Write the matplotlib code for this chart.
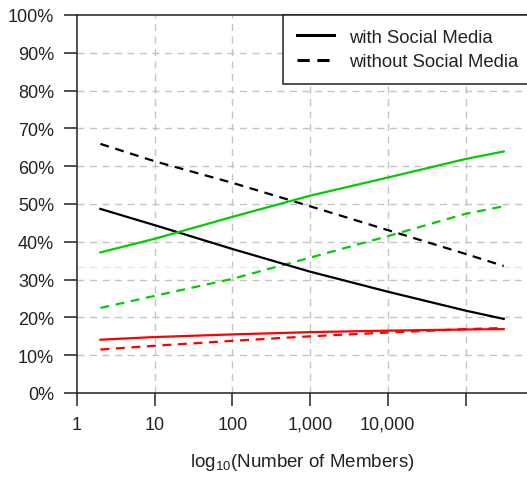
import matplotlib
matplotlib.use('Agg')
import matplotlib.pyplot as plt
import numpy as np

plt.rcParams['font.family'] = ['Liberation Sans', 'DejaVu Sans']
plt.rcParams['mathtext.default'] = 'regular'

# group size where each curve was evaluated
members = [2, 10, 100, 1000, 10000, 100000, 310000]

# share of members (%) by group size
black_with = [48.7, 44.4, 38.1, 32.1, 26.8, 21.8, 19.6]
black_without = [65.9, 61.3, 55.6, 49.4, 43.1, 36.8, 33.6]
green_with = [37.2, 40.8, 46.6, 52.2, 57.0, 61.9, 63.9]
green_without = [22.5, 25.7, 30.2, 35.8, 41.5, 47.4, 49.4]
red_with = [14.1, 14.8, 15.5, 16.1, 16.5, 16.8, 16.9]
red_without = [11.5, 12.5, 13.8, 15.0, 16.0, 16.9, 17.2]

x_ticks = [1, 10, 100, 1000, 10000, 100000]
x_tick_labels = ['1', '10', '100', '1,000', '10,000', '']
y_ticks = [0, 10, 20, 30, 40, 50, 60, 70, 80, 90, 100]
legend_labels = ['with Social Media', 'without Social Media']

GREEN = '#00cd00'
RED = '#ff0000'
GRID = '#c4c4c4'
INK = '#222222'


def main():
	fig = plt.figure(figsize=(5.27, 4.81), dpi=100)
	ax = fig.add_axes([77 / 527, 87 / 481, 1 - 77 / 527, 378 / 481])

	ax.set_xscale('log')
	ax.set_xlim(1, 10 ** (450 / 77.7))
	ax.set_ylim(0, 100)

	# background grid
	for xv in x_ticks[1:]:
		ax.axvline(xv, color=GRID, lw=1.0, ls=(0, (5, 4)), zorder=0)
	for yv in y_ticks[1:-1]:
		ax.axhline(yv, color=GRID, lw=1.0, ls=(0, (5, 4)), zorder=0)
	ax.axhline(100 / 3, color='#e6e6e6', lw=1.0, ls=(0, (5, 4)), zorder=0)

	lw = 1.6
	dash = (0, (4, 3))
	ax.plot(members, black_without, color='black', lw=lw, ls=dash)
	ax.plot(members, green_without, color=GREEN, lw=lw, ls=dash)
	ax.plot(members, red_without, color=RED, lw=lw, ls=dash)
	ax.plot(members, black_with, color='black', lw=lw)
	ax.plot(members, green_with, color=GREEN, lw=lw)
	ax.plot(members, red_with, color=RED, lw=lw)

	ax.set_xticks(x_ticks)
	ax.set_xticklabels(x_tick_labels)
	ax.xaxis.set_minor_locator(matplotlib.ticker.NullLocator())
	ax.set_yticks(y_ticks)
	ax.set_yticklabels(['%d%%' % v for v in y_ticks])

	ax.tick_params(direction='out', length=9.4, width=1.1, labelsize=13,
		color=INK, labelcolor=INK)
	ax.tick_params(axis='x', pad=7)
	ax.tick_params(axis='y', pad=7)
	for s in ['left', 'bottom', 'top']:
		ax.spines[s].set_linewidth(1.1)
		ax.spines[s].set_color(INK)
	ax.spines['right'].set_visible(False)

	ax.set_xlabel('log$_{10}$(Number of Members)', fontsize=13.5, color=INK, labelpad=13)

	# legend, line style only
	h1, = ax.plot([], [], color='black', lw=2.2)
	h2, = ax.plot([], [], color='black', lw=2.2, ls=(0, (4, 2.5)))
	leg = ax.legend([h1, h2], legend_labels, loc='upper left',
		bbox_to_anchor=(283 / 527, 1 - 16 / 481), bbox_transform=fig.transFigure,
		borderaxespad=0, fontsize=13.3, handlelength=2.0, handletextpad=0.85,
		borderpad=0.75, labelspacing=0.4, fancybox=False, framealpha=1)
	leg.get_frame().set_edgecolor(INK)
	leg.get_frame().set_linewidth(1.1)
	for t in leg.get_texts():
		t.set_color(INK)

	fig.savefig('out.png', dpi=100)


if __name__ == '__main__':
	main()
